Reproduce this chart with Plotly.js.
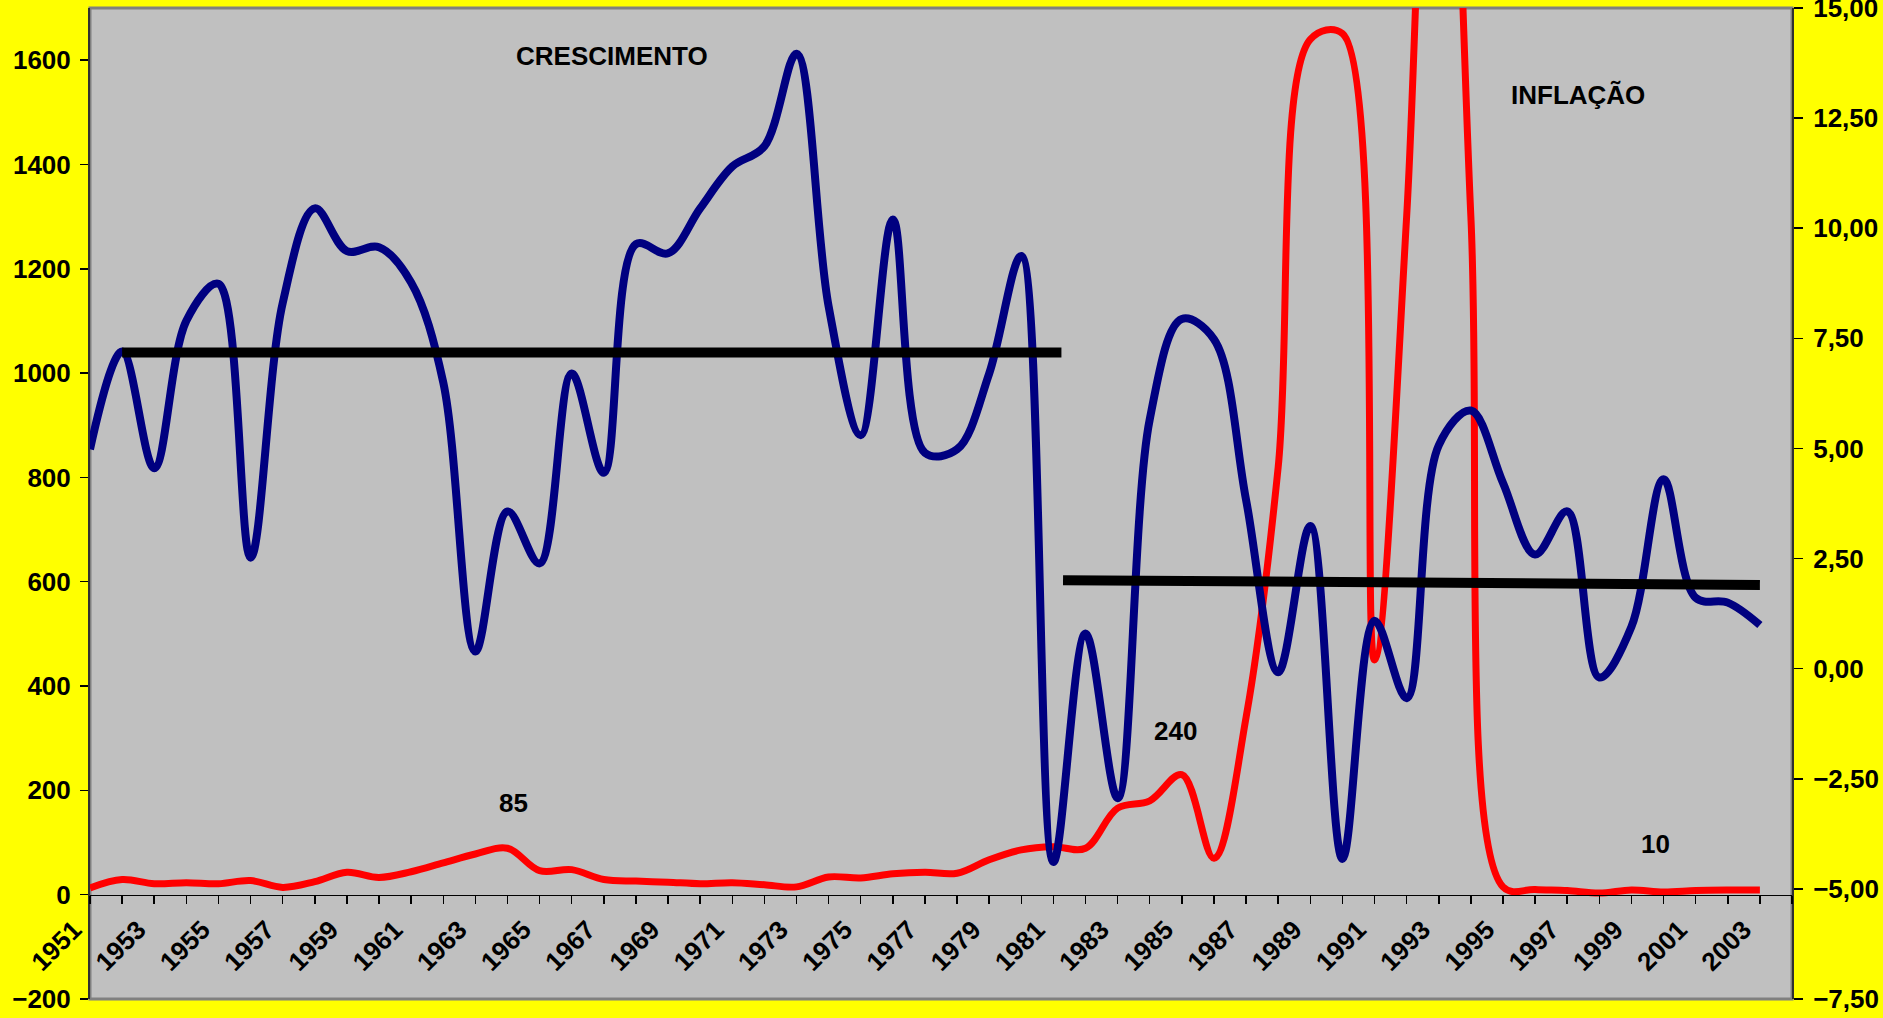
<!DOCTYPE html>
<html>
<head>
<meta charset="utf-8">
<script src="https://cdn.plot.ly/plotly-3.0.1.min.js"></script>
<style>html,body{margin:0;padding:0;background:#FFFF00;}#chart{width:1883px;height:1018px;}</style>
</head>
<body>
<div id="chart"></div>
<script>
// ---- data ----
const years = [1951,1952,1953,1954,1955,1956,1957,1958,1959,1960,1961,1962,1963,1964,1965,1966,1967,1968,1969,1970,1971,1972,1973,1974,1975,1976,1977,1978,1979,1980,1981,1982,1983,1984,1985,1986,1987,1988,1989,1990,1991,1992,1993,1994,1995,1996,1997,1998,1999,2000,2001,2002,2003];
// Crescimento (GDP growth, %), right axis
const crescimento = [4.98,7.2,4.55,7.9,8.74,2.52,8.3,10.45,9.48,9.57,8.77,6.5,0.39,3.57,2.39,6.7,4.45,9.64,9.43,10.45,11.4,11.86,13.96,8.23,5.3,10.2,4.9,4.98,6.7,9.37,-4.39,0.8,-2.94,5.66,7.94,7.48,3.83,-0.08,3.24,-4.32,1.09,-0.67,5.07,5.86,4.22,2.59,3.57,-0.2,0.95,4.3,1.61,1.5,0.99];
// Inflação (% a.a.), left axis
const inflacao = [13,29,21,23,21,27,14,25,43,33,44,61,78,89,46,48,29,26,24,21,23,19,15,34,32,40,43,41,67,86,92,89,166,180,230,70,340,820,1640,1651,450,1300,2700,1300,15,10,8,3,9,5,8,9,9];
// Average growth per period (right axis)
const mediaPeriodo1Anos = [1952, 1981.25];
const mediaPeriodo1 = [7.18, 7.18];
const mediaPeriodo2Anos = [1981.3, 2003];
const mediaPeriodo2 = [2.01, 1.90];
// text labels
const tituloCrescimento = 'CRESCIMENTO';
const tituloInflacao = 'INFLAÇÃO';
const rotulos = [{ano:1964, texto:'85'},{ano:1985, texto:'240'},{ano:2001, texto:'10'}];

const FONT = 'Liberation Sans, Arial, sans-serif';
const leftRange = [-200, 1700];
const rightRange = [-7.5, 15];
const xRange = [1951, 2004];
const xPos = (0 - leftRange[0]) / (leftRange[1] - leftRange[0]);

const traces = [
  {x: years, y: inflacao, xaxis:'x', yaxis:'y', type:'scatter', mode:'lines',
   line:{color:'#FF0000', width:7, shape:'spline', smoothing:1}, hoverinfo:'skip'},
  {x: years, y: crescimento, xaxis:'x', yaxis:'y2', type:'scatter', mode:'lines',
   line:{color:'#000080', width:8, shape:'spline', smoothing:1}, hoverinfo:'skip'},
  {x: mediaPeriodo1Anos, y: mediaPeriodo1, xaxis:'x', yaxis:'y2', type:'scatter', mode:'lines',
   line:{color:'#000000', width:10}, hoverinfo:'skip'},
  {x: mediaPeriodo2Anos, y: mediaPeriodo2, xaxis:'x', yaxis:'y2', type:'scatter', mode:'lines',
   line:{color:'#000000', width:10}, hoverinfo:'skip'}
];

const tickFont = {family: FONT, size: 26, color:'#000000', weight:'bold'};
const annFont = {family: FONT, size: 26, color:'#000000', weight:'bold'};

const layout = {
  width: 1883, height: 1018,
  margin: {l:90, r:91, t:8, b:19, pad:0},
  paper_bgcolor: '#FFFF00',
  plot_bgcolor: '#C0C0C0',
  showlegend: false,
  separators: ',.',
  xaxis: {
    range: xRange, anchor:'free', position: xPos,
    tickmode:'linear', tick0:1951, dtick:2,
    ticks:'outside', ticklen:8, tickwidth:1.5, tickcolor:'#000',
    minor:{dtick:1, tick0:1951, ticks:'outside', ticklen:8, tickwidth:1.5, tickcolor:'#000'},
    tickangle:-45, tickfont:{family:FONT, size:26, color:'#000', weight:'bold'},
    ticklabelstandoff: 0, ticklabelshift: -16, ticklabeloverflow:'allow',
    showline:true, linecolor:'#000', linewidth:1.5,
    showgrid:false, zeroline:false, fixedrange:true
  },
  xaxis2: {
    range: xRange, overlaying:'x', anchor:'free', position: xPos,
    tickmode:'linear', tick0:1951, dtick:1,
    ticks:'inside', ticklen:8, tickwidth:1.5, tickcolor:'#000',
    showticklabels:false, showline:false, showgrid:false, zeroline:false
  },
  yaxis: {
    range: leftRange, tickmode:'linear', tick0:0, dtick:200,
    ticks:'outside', ticklen:8, tickwidth:1.5, tickcolor:'#000',
    tickfont: tickFont, ticklabelstandoff: 4, ticklabeloverflow:'allow',
    showline:true, linecolor:'#303030', linewidth:2,
    showgrid:false, zeroline:false, fixedrange:true
  },
  yaxis3: {
    range: leftRange, overlaying:'y', side:'left', tickmode:'linear', tick0:0, dtick:200,
    ticks:'inside', ticklen:8, tickwidth:1.5, tickcolor:'#000',
    showticklabels:false, showline:false, showgrid:false, zeroline:false
  },
  yaxis2: {
    range: rightRange, overlaying:'y', side:'right', tickmode:'linear', tick0:0, dtick:2.5,
    tickformat:'.2f',
    ticks:'outside', ticklen:9, tickwidth:1.5, tickcolor:'#000',
    tickfont: tickFont, ticklabelstandoff: 5, ticklabeloverflow:'allow',
    showline:true, linecolor:'#303030', linewidth:2,
    showgrid:false, zeroline:false, fixedrange:true
  },
  yaxis4: {
    range: rightRange, overlaying:'y', side:'right', tickmode:'linear', tick0:0, dtick:2.5,
    ticks:'inside', ticklen:9, tickwidth:1.5, tickcolor:'#000',
    showticklabels:false, showline:false, showgrid:false, zeroline:false
  },
  shapes: [
    {type:'rect', xref:'paper', yref:'paper', x0:0, x1:1, y0:0, y1:1,
     line:{color:'#808080', width:3}, fillcolor:'rgba(0,0,0,0)', layer:'below'}
  ],
  annotations: [
    {text: tituloCrescimento, xref:'paper', yref:'paper', x:(612-90)/1702, y:(999-56)/991,
     showarrow:false, font: annFont, xanchor:'center', yanchor:'middle'},
    {text: tituloInflacao, xref:'paper', yref:'paper', x:(1578-90)/1702, y:(999-95)/991,
     showarrow:false, font: annFont, xanchor:'center', yanchor:'middle'}
  ]
};
const rotuloY = {1964: 176, 1985: 314, 2001: 97};
const rotuloX = {1964: 1964.2, 1985: 1984.8, 2001: 1999.75};
rotulos.forEach(r => {
  layout.annotations.push({text: r.texto, xref:'x', yref:'y', x: rotuloX[r.ano], y: rotuloY[r.ano],
    showarrow:false, font: annFont, xanchor:'center', yanchor:'middle'});
});

Plotly.newPlot('chart', traces, layout, {displayModeBar:false, staticPlot:true});
</script>
</body>
</html>
